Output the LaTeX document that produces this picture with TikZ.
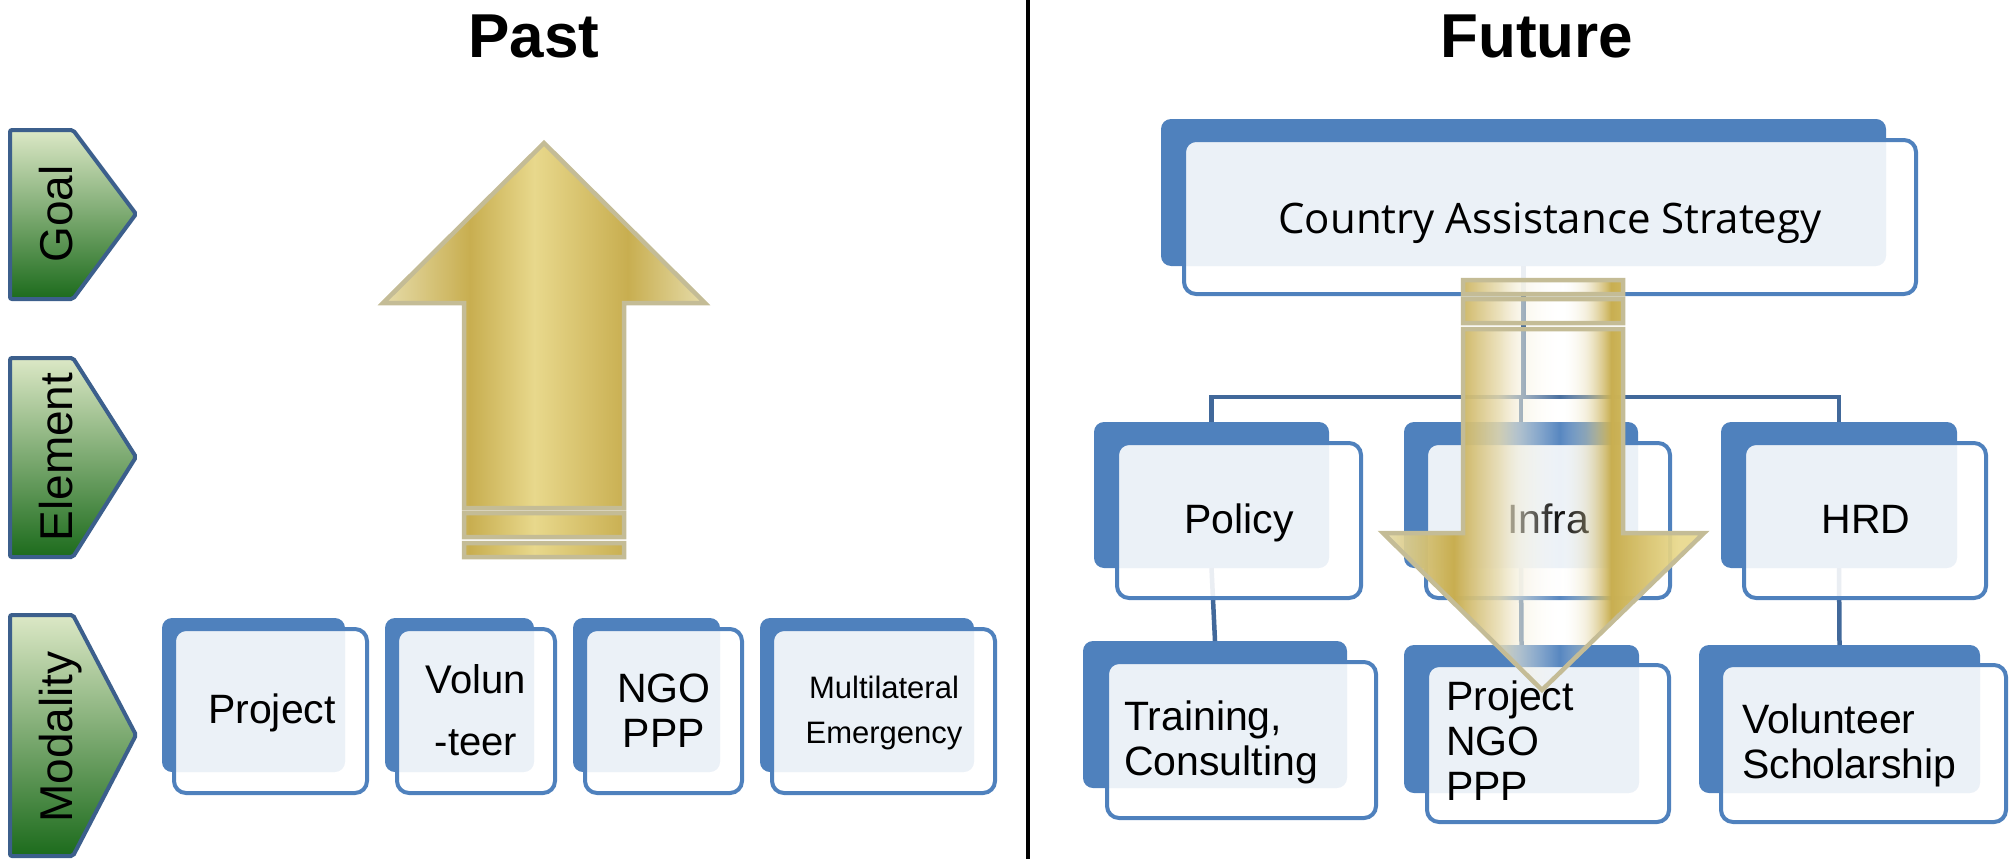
\documentclass[tikz,border=0pt]{standalone}
\usepackage{fontspec}
\setmainfont{Liberation Sans}
\newfontfamily\casfont{Open Sans}
\usetikzlibrary{fit,fadings}
\definecolor{boxblue}{HTML}{4F81BD}
\definecolor{connblue}{HTML}{41689A}
\definecolor{chevline}{HTML}{3C5F8C}
\definecolor{chevtop}{HTML}{DCE8C6}
\definecolor{chevmid}{HTML}{8DB463}
\definecolor{chevbot}{HTML}{1C6B1C}
\definecolor{goldline}{HTML}{C4BC96}
\definecolor{golddark}{HTML}{C8AE50}
\definecolor{goldlight}{HTML}{E8D88C}
\definecolor{goldpale}{HTML}{E6DCAA}
\definecolor{goldcream}{HTML}{F4EED8}
\pgfdeclarehorizontalshading{goldup}{100bp}{color(0bp)=(goldpale); color(25bp)=(goldpale); color(38.5bp)=(golddark); color(48.5bp)=(goldlight); color(63bp)=(golddark); color(75bp)=(goldpale); color(100bp)=(goldpale)}
\pgfdeclarehorizontalshading{golddown}{100bp}{color(0bp)=(goldpale); color(25bp)=(goldpale); color(36bp)=(golddark); color(46bp)=(goldcream); color(53bp)=(white); color(60.5bp)=(golddark); color(71bp)=(goldlight); color(100bp)=(goldlight)}
\pgfdeclarehorizontalshading{downfadeshade}{100bp}{color(0bp)=(black!10); color(25bp)=(black!10); color(36bp)=(black!0); color(43bp)=(black!15); color(49bp)=(black!65); color(52.5bp)=(black!95); color(56.5bp)=(black!60); color(60.5bp)=(black!0); color(75bp)=(black!10); color(100bp)=(black!10)}
\pgfdeclarefading{downfade}{\pgfuseshading{downfadeshade}}
\newcommand\futurearrowpath{(1463,329) -- (1623,329) -- (1623,533) -- (1704,533) -- (1542,690) -- (1383,533) -- (1463,533) -- cycle
 (1463,280) rectangle (1623,294) (1463,299) rectangle (1623,323)}
\tikzset{
 backbox/.style={fill=boxblue, rounded corners=10pt, inner sep=0pt, outer sep=0pt},
 frontbox/.style={fill=white, fill opacity=0.89, draw=boxblue, line width=4pt, rounded corners=12pt, inner sep=0pt, outer sep=0pt},
 conn/.style={draw=connblue, line width=4.5pt},
 chevron/.style={top color=chevtop, middle color=chevmid, bottom color=chevbot, draw=chevline, line width=4pt, rounded corners=2pt},
 chevlabel/.style={rotate=90, anchor=base, inner sep=0pt, font=\fontsize{46}{50}\selectfont},
 title/.style={anchor=base, inner sep=0pt, font=\fontsize{62}{70}\selectfont\bfseries},
 boxtext/.style={inner sep=0pt, font=\fontsize{41}{45}\selectfont},
}
\begin{document}
\begin{tikzpicture}[x=1pt,y=-1pt]
\useasboundingbox (0,0) rectangle (2009,859);
% divider
\draw[line width=4pt] (1028,0) -- (1028,859);
% titles
\node[title] (past) at (534,57) {Past};
\node[title] (future) at (1537,57) {Future};
% chevrons
\shade[chevron] (10,130) -- (73,130) -- (136,214) -- (73,299) -- (10,299) -- cycle;
\shade[chevron] (10,358) -- (73,358) -- (136,457) -- (73,557) -- (10,557) -- cycle;
\shade[chevron] (10,615) -- (73,615) -- (136,735) -- (73,856) -- (10,856) -- cycle;
\node[chevlabel] (goal) at (72,214) {Goal};
\node[chevlabel] (element) at (72,457) {Element};
\node[chevlabel] (modality) at (72,737) {Modality};
% up arrow
\shade[shading=goldup, draw=goldline, line width=4.5pt]
 (544,143) -- (705,303) -- (624,303) -- (624,508) -- (464,508) -- (464,303) -- (383,303) -- cycle
 (464,513) rectangle (624,537) (464,543) rectangle (624,557);
% left boxes
\node[backbox, fit={(162,618) (345,772)}] (m1-b) {};
\node[frontbox, fit={(174,629) (367,793)}] (m1) {};
\node[backbox, fit={(385,618) (534,772)}] (m2-b) {};
\node[frontbox, fit={(397,629) (555,793)}] (m2) {};
\node[backbox, fit={(573,618) (720,772)}] (m3-b) {};
\node[frontbox, fit={(585,629) (742,793)}] (m3) {};
\node[backbox, fit={(760,618) (974,772)}] (m4-b) {};
\node[frontbox, fit={(772,629) (995,793)}] (m4) {};
\node[boxtext, anchor=base] (t1) at (272,723) {Project};
\node[boxtext, anchor=base, align=center, font=\fontsize{40}{62}\selectfont] (t2) at (476,755) {Volun\\-teer};
\node[boxtext, anchor=base, align=center] (t3) at (664,747) {NGO\\PPP};
\node[boxtext, anchor=base, align=center, font=\fontsize{31}{45}\selectfont] (t4) at (884,743) {Multilateral\\Emergency};
% right back boxes
\node[backbox, fit={(1161,119) (1886,266)}] (cas-b) {};
\node[backbox, fit={(1094,422) (1329,568)}] (policy-b) {};
\node[backbox, fit={(1404,422) (1638,568)}] (infra-b) {};
\node[backbox, fit={(1721,422) (1957,568)}] (hrd-b) {};
\node[backbox, fit={(1083,641) (1347,788)}] (train-b) {};
\node[backbox, fit={(1404,645) (1639,793)}] (proj-b) {};
\node[backbox, fit={(1699,645) (1980,793)}] (vol-b) {};
% connectors
\coordinate (bus) at (0,397);
\draw[conn] (cas-b.south) -- (cas-b.south |- bus);
\draw[conn] (policy-b.north) |- (hrd-b.north |- bus) -- (hrd-b.north);
\draw[conn] (infra-b.north) -- (infra-b.north |- bus);
\draw[conn] (policy-b.south) -- (train-b.north);
\draw[conn] (infra-b.south) -- (proj-b.north);
\draw[conn] (hrd-b.south) -- (vol-b.north);
% right front boxes
\node[frontbox, fit={(1184,140) (1916,294)}] (cas) {};
\node[frontbox, fit={(1117,443) (1361,598)}] (policy) {};
\node[frontbox, fit={(1426,443) (1670,598)}] (infra) {};
\node[frontbox, fit={(1744,443) (1986,598)}] (hrd) {};
\node[frontbox, fit={(1107,662) (1376,818)}] (train) {};
\node[frontbox, fit={(1427,665) (1669,822)}] (proj) {};
\node[frontbox, fit={(1721,665) (2006,822)}] (vol) {};
% right texts
\node[inner sep=0pt, anchor=base, font=\casfont\fontsize{42}{48}\selectfont] (cas-t) at (1550,233) {Country Assistance Strategy};
\node[boxtext, anchor=base] (policy-t) at (1239,533) {Policy};
\node[boxtext, anchor=base] (infra-t) at (1548,533) {Infra};
\node[boxtext, anchor=base] (hrd-t) at (1866,533) {HRD};
\node[boxtext, anchor=base west, align=left] (train-t) at (1124,775) {Training,\\Consulting};
\node[boxtext, anchor=base west, align=left] (proj-t) at (1446,800) {Project\\NGO\\PPP};
\node[boxtext, anchor=base west, align=left] (vol-t) at (1742,778) {Volunteer\\Scholarship};
% down arrow
\shade[shading=golddown, path fading=downfade, fit fading=true] \futurearrowpath;
\draw[goldline, line width=4.5pt] \futurearrowpath;
\end{tikzpicture}
\end{document}
